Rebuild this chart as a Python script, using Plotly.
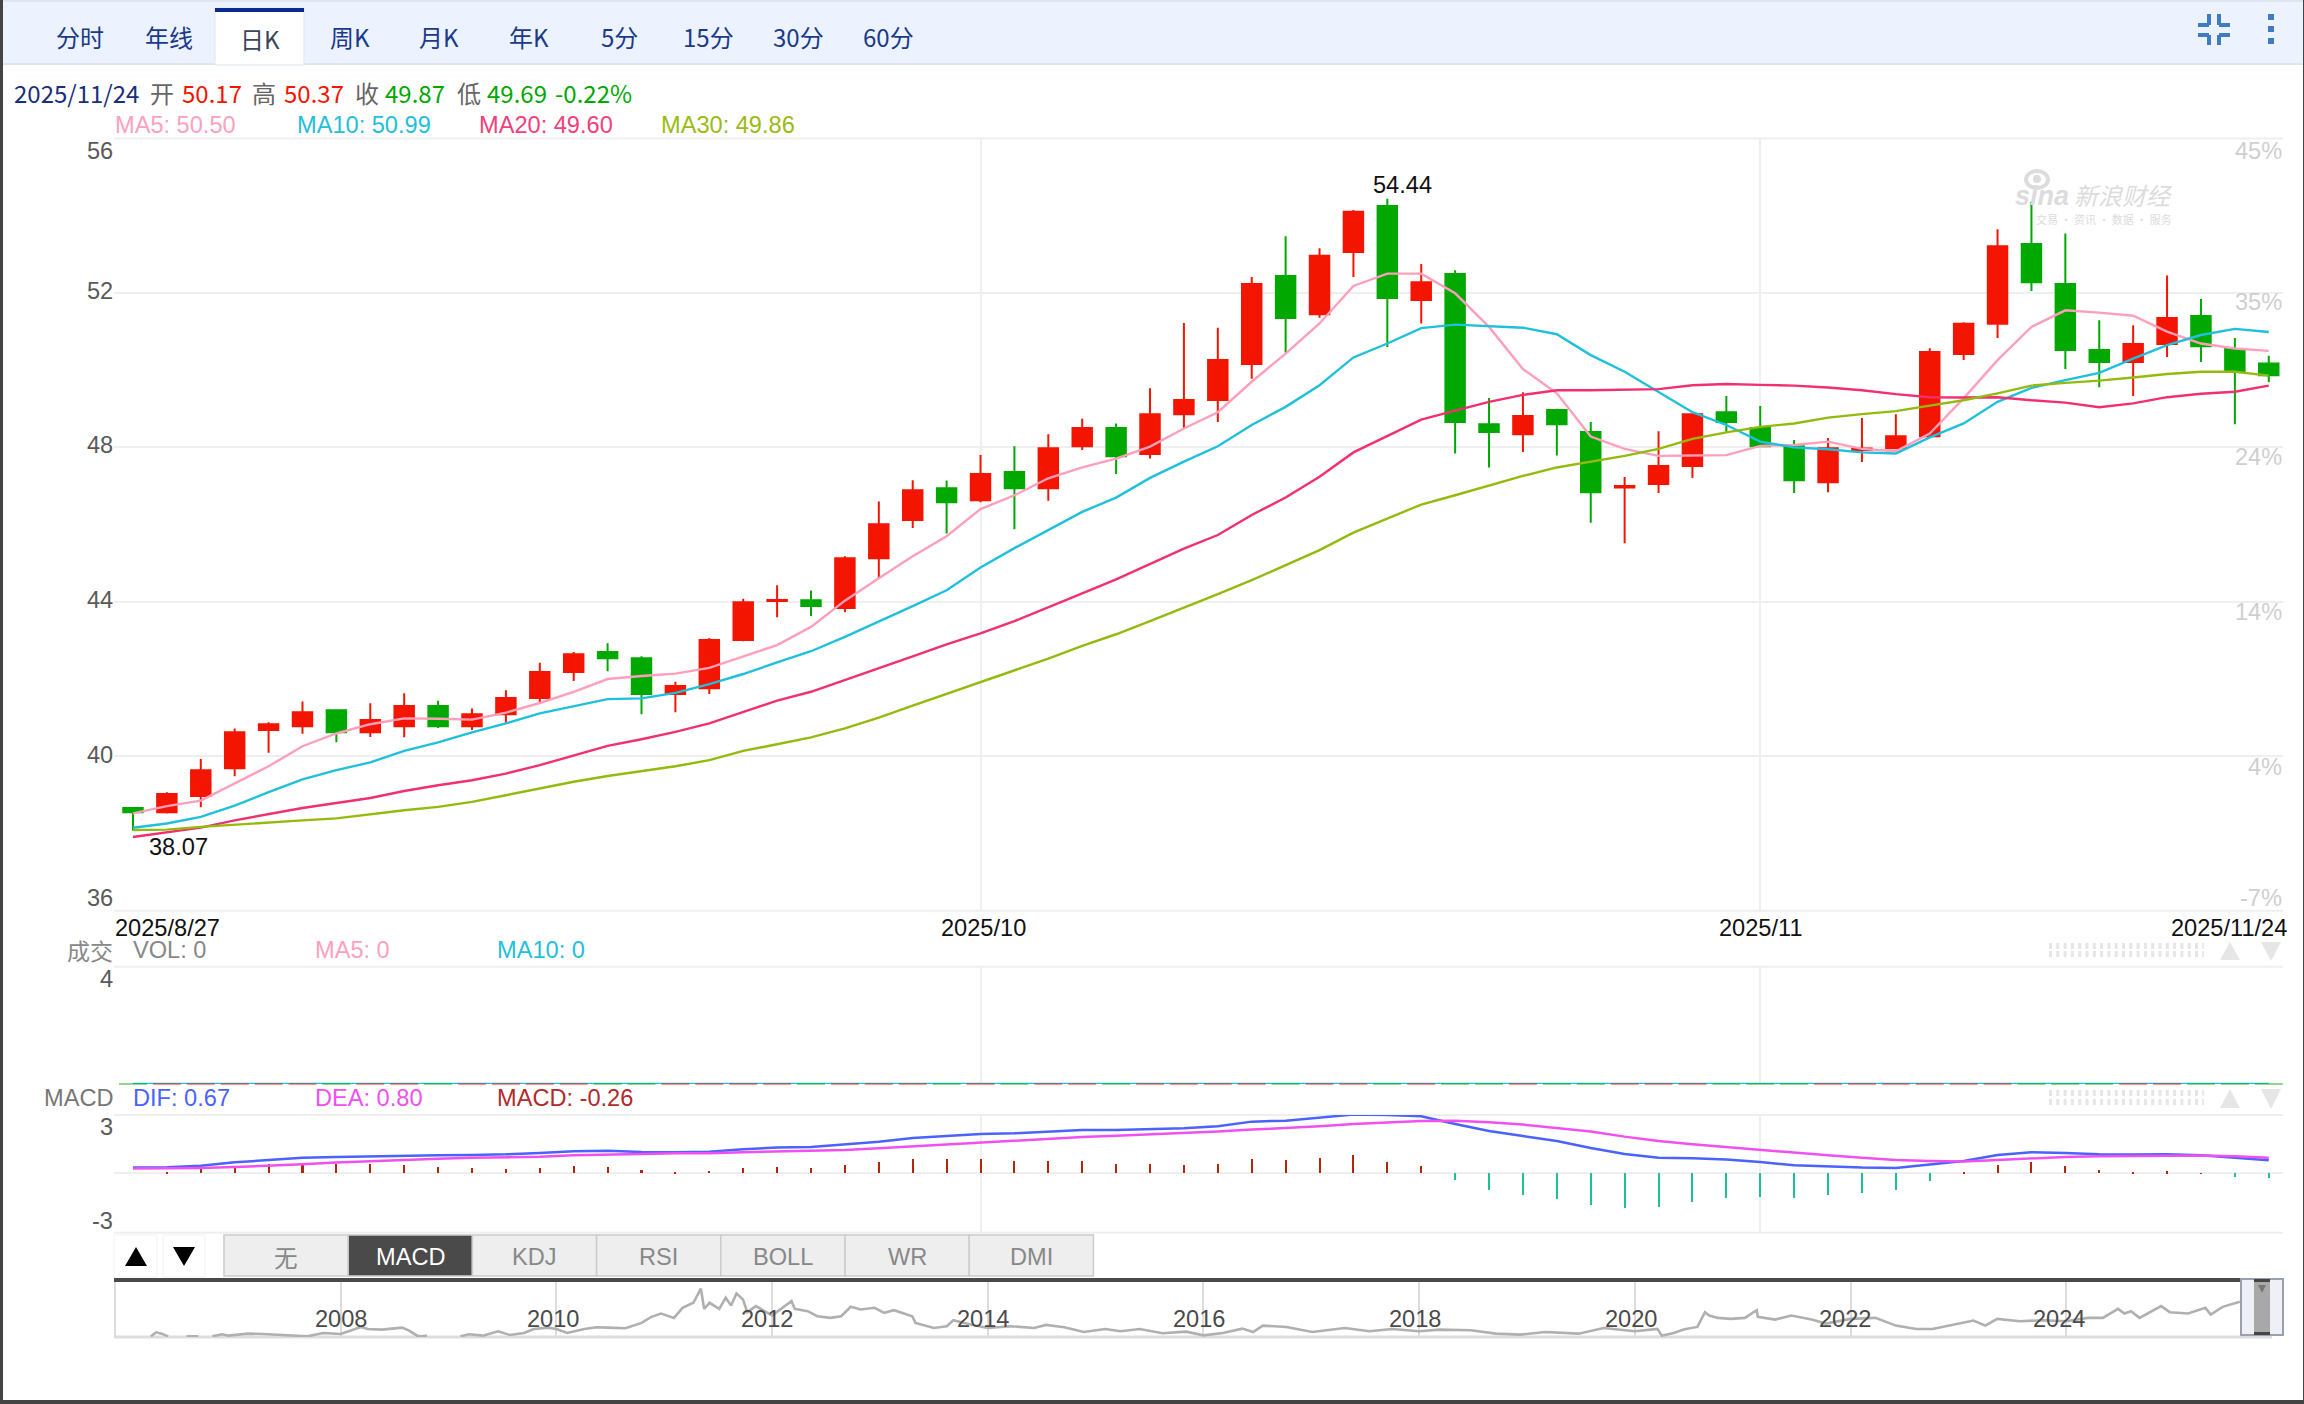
import plotly.graph_objects as go

W, H = 2304, 1404

# daily candles, 2025/8/27 - 2025/11/24
dates = [
    "8/27", "8/28", "8/29",
    "9/1", "9/2", "9/3", "9/4", "9/5", "9/8", "9/9", "9/10", "9/11", "9/12",
    "9/15", "9/16", "9/17", "9/18", "9/19", "9/22", "9/23", "9/24", "9/25", "9/26", "9/29", "9/30",
    "10/1", "10/2", "10/3", "10/6", "10/7", "10/8", "10/9", "10/10", "10/13", "10/14", "10/15", "10/16",
    "10/17", "10/20", "10/21", "10/22", "10/23", "10/24", "10/27", "10/28", "10/29", "10/30", "10/31",
    "11/3", "11/4", "11/5", "11/6", "11/7", "11/10", "11/11", "11/12", "11/13", "11/14",
    "11/17", "11/18", "11/19", "11/20", "11/21", "11/24",
]
opens = [
    38.66, 38.55, 38.97, 39.69, 40.68, 40.78, 41.19, 40.62, 40.78, 41.30, 40.78, 41.09, 41.51, 42.18, 42.70, 42.54,
    41.61, 41.76, 43.01, 44.02, 44.04, 43.84, 45.13, 46.12, 46.94, 46.63, 47.36, 46.94, 48.03, 48.50, 47.83, 48.86,
    49.23, 50.16, 52.44, 51.45, 53.06, 54.25, 51.82, 52.49, 48.60, 48.34, 48.97, 48.40, 46.96, 47.05, 47.52, 48.91,
    48.50, 48.03, 47.10, 47.93, 47.98, 48.29, 50.42, 51.20, 53.27, 52.23, 50.52, 50.21, 50.68, 51.40, 50.55, 50.17,
]
highs = [
    38.66, 39.07, 39.93, 40.72, 40.88, 41.42, 41.19, 41.37, 41.63, 41.44, 41.24, 41.71, 42.42, 42.70, 42.93, 42.59,
    41.93, 43.06, 44.08, 44.43, 44.29, 45.18, 46.60, 47.15, 47.14, 47.80, 48.03, 48.34, 48.74, 48.62, 49.53, 51.22,
    51.10, 52.41, 53.47, 53.16, 54.15, 54.44, 52.75, 52.59, 49.28, 49.43, 49.00, 48.66, 47.23, 48.42, 48.88, 49.33,
    49.07, 48.19, 48.24, 48.76, 48.86, 50.57, 51.24, 53.65, 54.36, 53.54, 51.29, 51.16, 52.45, 51.84, 50.83, 50.37,
]
lows = [
    38.07, 38.52, 38.68, 39.48, 40.09, 40.58, 40.36, 40.50, 40.49, 40.73, 40.68, 40.87, 41.39, 41.95, 42.20, 41.09,
    41.14, 41.61, 42.98, 43.60, 43.63, 43.73, 44.61, 45.91, 45.77, 46.58, 45.88, 46.62, 47.93, 47.31, 47.71, 48.49,
    48.66, 49.78, 50.45, 51.36, 52.41, 50.60, 51.21, 47.84, 47.48, 47.88, 47.79, 46.05, 45.52, 46.82, 47.21, 48.40,
    48.03, 46.82, 46.84, 47.62, 47.95, 48.29, 50.26, 50.83, 52.05, 50.03, 49.56, 49.33, 50.34, 50.21, 48.60, 49.69,
]
closes = [
    38.55, 39.02, 39.64, 40.62, 40.83, 41.14, 40.62, 40.94, 41.30, 40.78, 41.09, 41.51, 42.18, 42.64, 42.54, 41.61,
    41.82, 43.01, 43.99, 44.05, 43.89, 45.13, 46.01, 46.89, 46.58, 47.31, 46.94, 47.98, 48.50, 47.77, 48.86, 49.23,
    50.26, 52.23, 51.35, 52.96, 54.10, 51.87, 52.28, 48.66, 48.40, 48.81, 48.60, 46.84, 47.00, 47.52, 48.86, 48.66,
    48.03, 47.15, 47.98, 47.97, 48.29, 50.47, 51.20, 53.21, 52.28, 50.52, 50.21, 50.68, 51.35, 50.62, 49.95, 49.87,
]
ma5 = [
    38.52, 38.71, 38.85, 39.29, 39.74, 40.26, 40.59, 40.83, 40.98, 40.97, 40.95, 41.13, 41.38, 41.67, 42.00, 42.08,
    42.14, 42.29, 42.59, 42.88, 43.35, 44.03, 44.61, 45.18, 45.70, 46.40, 46.76, 47.20, 47.48, 47.71, 48.02, 48.49,
    48.91, 49.70, 50.43, 51.21, 52.18, 52.50, 52.50, 51.99, 51.12, 50.03, 49.40, 48.28, 47.96, 47.78, 47.79, 47.80,
    48.04, 48.06, 48.15, 47.96, 47.90, 48.36, 49.27, 50.26, 51.12, 51.55, 51.49, 51.41, 51.00, 50.69, 50.56, 50.50,
]
ma10 = [
    38.15, 38.26, 38.43, 38.72, 39.07, 39.40, 39.64, 39.84, 40.14, 40.36, 40.62, 40.85, 41.11, 41.30, 41.48, 41.50,
    41.64, 41.87, 42.13, 42.43, 42.72, 43.09, 43.48, 43.89, 44.30, 44.89, 45.39, 45.87, 46.33, 46.70, 47.21, 47.63,
    48.03, 48.58, 49.05, 49.61, 50.33, 50.69, 51.09, 51.18, 51.14, 51.10, 50.93, 50.39, 49.96, 49.44, 48.91, 48.58,
    48.15, 48.00, 47.95, 47.87, 47.84, 48.26, 48.62, 49.18, 49.54, 49.74, 49.93, 50.30, 50.65, 50.91, 51.07, 50.99,
]
ma20 = [
    37.91, 38.03, 38.15, 38.34, 38.50, 38.66, 38.79, 38.92, 39.10, 39.25, 39.38, 39.55, 39.77, 40.01, 40.27, 40.44,
    40.63, 40.85, 41.15, 41.44, 41.67, 41.97, 42.27, 42.59, 42.90, 43.18, 43.50, 43.87, 44.22, 44.58, 44.99, 45.38,
    45.73, 46.25, 46.70, 47.24, 47.87, 48.30, 48.72, 48.95, 49.18, 49.36, 49.48, 49.48, 49.50, 49.51, 49.61, 49.64,
    49.62, 49.60, 49.55, 49.48, 49.38, 49.30, 49.29, 49.30, 49.22, 49.16, 49.04, 49.14, 49.30, 49.39, 49.44, 49.60,
]
ma30 = [
    38.09, 38.10, 38.17, 38.23, 38.28, 38.34, 38.39, 38.50, 38.60, 38.69, 38.82, 38.99, 39.16, 39.34, 39.49, 39.62,
    39.74, 39.90, 40.14, 40.31, 40.49, 40.72, 41.00, 41.31, 41.61, 41.92, 42.23, 42.53, 42.86, 43.16, 43.50, 43.84,
    44.20, 44.56, 44.95, 45.34, 45.79, 46.16, 46.52, 46.76, 47.00, 47.26, 47.48, 47.63, 47.78, 47.96, 48.22, 48.39,
    48.53, 48.62, 48.77, 48.86, 48.94, 49.08, 49.22, 49.40, 49.60, 49.67, 49.73, 49.81, 49.90, 49.96, 49.96, 49.86,
]
volume = [0] * 64
dif = [
    0.29, 0.31, 0.39, 0.56, 0.68, 0.80, 0.84, 0.87, 0.92, 0.92, 0.94, 0.97, 1.04, 1.13, 1.16, 1.09,
    1.08, 1.11, 1.23, 1.32, 1.35, 1.47, 1.62, 1.81, 1.91, 2.02, 2.05, 2.14, 2.22, 2.22, 2.26, 2.31,
    2.41, 2.65, 2.70, 2.84, 3.01, 2.99, 2.92, 2.53, 2.17, 1.91, 1.66, 1.30, 0.99, 0.80, 0.77, 0.70,
    0.58, 0.41, 0.34, 0.29, 0.27, 0.44, 0.63, 0.94, 1.08, 1.04, 0.97, 0.96, 0.97, 0.92, 0.80, 0.67,
]
dea = [
    0.24, 0.24, 0.27, 0.32, 0.38, 0.46, 0.55, 0.62, 0.68, 0.75, 0.79, 0.82, 0.85, 0.92, 0.97, 0.99,
    1.03, 1.03, 1.08, 1.11, 1.15, 1.20, 1.28, 1.38, 1.49, 1.59, 1.68, 1.76, 1.86, 1.93, 2.00, 2.05,
    2.14, 2.24, 2.32, 2.41, 2.53, 2.62, 2.68, 2.70, 2.62, 2.50, 2.32, 2.14, 1.88, 1.66, 1.49, 1.35,
    1.20, 1.04, 0.92, 0.80, 0.68, 0.63, 0.60, 0.68, 0.77, 0.84, 0.87, 0.89, 0.91, 0.91, 0.87, 0.80,
]
macd = [
    0.00, 0.07, 0.20, 0.36, 0.48, 0.55, 0.50, 0.46, 0.44, 0.32, 0.27, 0.24, 0.29, 0.36, 0.32, 0.17,
    0.07, 0.12, 0.27, 0.34, 0.29, 0.43, 0.56, 0.74, 0.74, 0.75, 0.63, 0.65, 0.65, 0.48, 0.48, 0.44,
    0.50, 0.75, 0.68, 0.80, 0.92, 0.60, 0.38, -0.34, -0.85, -1.13, -1.32, -1.64, -1.78, -1.74, -1.49, -1.28,
    -1.21, -1.26, -1.13, -1.01, -0.85, -0.41, 0.02, 0.44, 0.58, 0.39, 0.19, 0.07, 0.10, 0.01, -0.17, -0.26,
]

# overview strip at the bottom, None where the line drops out
nav_years = [
    2006.24, 2006.29, 2006.34, 2006.40, 2006.50, 2006.57, 2006.68, 2006.75, 2006.81, 2006.90, 2006.96, 2007.14,
    2007.28, 2007.47, 2007.62, 2007.69, 2007.84, 2008.00, 2008.19, 2008.25, 2008.38, 2008.57, 2008.63, 2008.71,
    2008.75, 2008.80, 2009.00, 2009.11, 2009.19, 2009.32, 2009.46, 2009.57, 2009.70, 2009.79, 2009.92, 2010.00,
    2010.10, 2010.26, 2010.37, 2010.48, 2010.64, 2010.79, 2010.88, 2010.97, 2011.09, 2011.17, 2011.27, 2011.34,
    2011.37, 2011.42, 2011.51, 2011.57, 2011.62, 2011.67, 2011.73, 2011.77, 2011.85, 2012.00, 2012.08, 2012.18,
    2012.21, 2012.33, 2012.42, 2012.54, 2012.64, 2012.73, 2012.82, 2012.95, 2013.04, 2013.13, 2013.30, 2013.33,
    2013.50, 2013.62, 2013.68, 2013.84, 2014.00, 2014.21, 2014.43, 2014.54, 2014.71, 2014.89, 2015.09, 2015.23,
    2015.41, 2015.62, 2015.84, 2016.00, 2016.18, 2016.36, 2016.46, 2016.55, 2016.77, 2016.91, 2017.01, 2017.31,
    2017.54, 2017.75, 2018.00, 2018.19, 2018.48, 2018.71, 2018.94, 2019.17, 2019.48, 2019.71, 2019.88, 2020.00,
    2020.21, 2020.25, 2020.36, 2020.46, 2020.58, 2020.65, 2020.69, 2020.77, 2020.89, 2021.02, 2021.13, 2021.14,
    2021.30, 2021.45, 2021.64, 2021.77, 2022.00, 2022.23, 2022.42, 2022.61, 2022.76, 2022.95, 2023.14, 2023.25,
    2023.36, 2023.57, 2023.79, 2024.00, 2024.20, 2024.34, 2024.48, 2024.54, 2024.60, 2024.68, 2024.88, 2024.96,
    2025.13, 2025.29, 2025.34, 2025.45, 2025.61,
]
nav_vals = [
    2, 14, 10, 2, None, 2, 2, None, 2, 8, 4, 10,
    9, 6, 4, 2, 12, 9, 30, 24, 22, 28, 20, 4,
    2, 4, None, 2, 8, 4, 17, 6, 12, 24, 28, 24,
    12, 24, 29, 28, 26, 42, 60, 70, 57, 87, 102, 144,
    84, 102, 84, 117, 94, 130, 112, 74, 92, 64, 82, 107,
    84, 77, 62, 57, 62, 90, 82, 87, 72, 80, 62, 42,
    27, 32, 50, 37, 27, 32, 27, 36, 29, 15, 24, 17,
    24, 11, 16, 5, 12, 25, 15, 34, 30, 22, 15, 27,
    17, 24, 17, 22, 20, 10, 7, 15, 10, 27, 22, 17,
    24, 4, 12, 23, 30, 74, 64, 57, 54, 57, 80, 60,
    52, 64, 52, 40, 54, 57, 34, 24, 24, 37, 49, 34,
    54, 47, 50, 47, 57, 57, 84, 70, 77, 57, 92, 74,
    70, 87, 67, 90, 105,
]
nav_ticks = [2008, 2010, 2012, 2014, 2016, 2018, 2020, 2022, 2024]

tabs = ["分时", "年线", "日K", "周K", "月K", "年K", "5分", "15分", "30分", "60分"]
tab_x = [80, 169, 260, 350, 439, 529, 619, 708, 798, 888]
indicators = ["无", "MACD", "KDJ", "RSI", "BOLL", "WR", "DMI"]
price_ticks = [36, 40, 44, 48, 52, 56]
pct_labels = ["-7%", "4%", "14%", "24%", "35%", "45%"]

RED = "#f31500"
GREEN = "#00a800"
GRID = "#efefef"
SANS = "Liberation Sans"
CJK = "Noto Sans CJK SC"
TEXT = 23.6


def px(v):
    return v / W


def py(v):
    return 1 - v / H


annotations = []
shapes = []


def label(text, x, y, size=TEXT, color="#666666", anchor="left", family=SANS):
    annotations.append(dict(
        text=text, x=px(x), y=py(y), xref="paper", yref="paper", showarrow=False,
        xanchor=anchor, yanchor="middle", align=anchor, borderpad=0,
        font=dict(size=size, color=color, family=family),
    ))


def rect(x0, y0, x1, y1, fill, line=None, width=0, layer="below"):
    shapes.append(dict(
        type="rect", xref="paper", yref="paper", x0=px(x0), x1=px(x1), y0=py(y0), y1=py(y1),
        fillcolor=fill, line=dict(color=line, width=width) if line else dict(width=0), layer=layer,
    ))


def seg(x0, y0, x1, y1, color, width=2, dash="solid", layer="above"):
    shapes.append(dict(
        type="line", xref="paper", yref="paper", x0=px(x0), x1=px(x1), y0=py(y0), y1=py(y1),
        line=dict(color=color, width=width, dash=dash), layer=layer,
    ))


def tri(points, color):
    path = "M " + " L ".join(f"{px(a):.5f},{py(b):.5f}" for a, b in points) + " Z"
    shapes.append(dict(type="path", xref="paper", yref="paper", path=path, fillcolor=color,
                       line=dict(width=0), layer="above"))


fig = go.Figure()

# price panel
fig.add_trace(go.Candlestick(
    x=dates, open=opens, high=highs, low=lows, close=closes, xaxis="x", yaxis="y",
    increasing=dict(line=dict(color=RED, width=2), fillcolor=RED),
    decreasing=dict(line=dict(color=GREEN, width=2), fillcolor=GREEN),
    whiskerwidth=0, showlegend=False,
))
for values, color in [(ma5, "#ff9fbc"), (ma10, "#1fc0dc"), (ma20, "#f2306f"), (ma30, "#94ba0e")]:
    fig.add_trace(go.Scatter(x=dates, y=values, mode="lines", line=dict(color=color, width=2.4),
                             xaxis="x", yaxis="y", showlegend=False))

# volume panel, every bar is flat so only its colour shows
vol_colors = [RED if c >= o else GREEN for o, c in zip(opens, closes)]
fig.add_trace(go.Scatter(x=dates, y=volume, mode="lines", line=dict(color="#1fc0dc", width=2.5),
                         xaxis="x2", yaxis="y2", cliponaxis=False, showlegend=False))
fig.add_trace(go.Scatter(x=dates, y=volume, mode="markers", xaxis="x2", yaxis="y2", cliponaxis=False,
                         marker=dict(symbol="line-ew", size=20, opacity=0.75, line=dict(color=vol_colors, width=1.2)),
                         showlegend=False))

# MACD panel
fig.add_trace(go.Bar(x=dates, y=macd, width=0.06, xaxis="x3", yaxis="y3", showlegend=False,
                     marker=dict(color=["#b5250a" if v >= 0 else "#1dbf94" for v in macd], line=dict(width=0))))
fig.add_trace(go.Scatter(x=dates, y=dif, mode="lines", line=dict(color="#4a62ff", width=2.5),
                         xaxis="x3", yaxis="y3", cliponaxis=False, showlegend=False))
fig.add_trace(go.Scatter(x=dates, y=dea, mode="lines", line=dict(color="#f050f0", width=2.5),
                         xaxis="x3", yaxis="y3", cliponaxis=False, showlegend=False))

# overview strip
fig.add_trace(go.Scatter(x=nav_years, y=nav_vals, mode="lines", line=dict(color="#b0b0b0", width=2.6),
                         xaxis="x4", yaxis="y4", showlegend=False))

# top bar
rect(0, 0, W, 63, "#ecf3fe")
rect(0, 0, W, 2, "#dfe6f3")
rect(0, 63, W, 65, "#dfe6f3")
rect(215, 8, 304, 65, "#ffffff", "#dfe6f3", 1)
rect(215, 8, 304, 12, "#0a2a8c")
for name, x in zip(tabs, tab_x):
    is_day = name == "日K"
    label(name, x, 38 if is_day else 36, 24, "#39465c" if is_day else "#1b3a8a", "center", CJK)

# compress + menu icons
for xa, xb, ya, yb in [(2209, 2198, 14, 25), (2219, 2230, 14, 25), (2209, 2198, 45, 35), (2219, 2230, 45, 35)]:
    seg(xa, ya, xa, yb, "#3f7cc8", 4)
    seg(xa, yb, xb, yb, "#3f7cc8", 4)
for y in [17, 29, 41]:
    rect(2268, y - 3, 2274, y + 3, "#3f7cc8")

# quote line
for text, x, color in [
    ("2025/11/24", 13, "#1b2f7a"), ("开", 149, "#666666"), ("50.17", 181, RED), ("高", 251, "#666666"),
    ("50.37", 283, RED), ("收", 354, "#666666"), ("49.87", 384, GREEN), ("低", 456, "#666666"),
    ("49.69", 486, GREEN), ("-0.22%", 554, GREEN),
]:
    label(text, x, 92, 24, color, "left", CJK)
for text, x, color in [("MA5: 50.50", 114, "#ffa0c0"), ("MA10: 50.99", 296, "#1fc0dc"),
                       ("MA20: 49.60", 478, "#f2407a"), ("MA30: 49.86", 660, "#9abb14")]:
    label(text, x, 125, TEXT, color)

# price axis labels, the two end ones sit inside the plot
for v, y in zip(price_ticks, [898, 755, 600, 445, 291, 151]):
    label(str(v), 114, y, TEXT, "#5a5a5a", "right")
for text, y in zip(pct_labels, [898, 767, 612, 457, 302, 151]):
    label(text, 2283, y, TEXT, "#cfcfcf", "right")
label("54.44", 1402, 185, TEXT, "#111111", "center")
label("38.07", 178, 847, TEXT, "#111111", "center")
label("2025/8/27", 114, 928, TEXT, "#111111")
label("2025/10", 983, 928, TEXT, "#111111", "center")
label("2025/11", 1761, 928, TEXT, "#111111", "center")
label("2025/11/24", 2288, 928, TEXT, "#111111", "right")

# sina watermark
shapes.append(dict(type="circle", xref="paper", yref="paper", x0=px(2026), x1=px(2048), y0=py(188), y1=py(171),
                   line=dict(color="#dcdcdc", width=4), layer="below"))
shapes.append(dict(type="circle", xref="paper", yref="paper", x0=px(2033), x1=px(2041), y0=py(183), y1=py(175),
                   fillcolor="#dcdcdc", line=dict(width=0), layer="below"))
label("<b><i>sina</i></b>", 2014, 196, 27, "#dcdcdc")
label("<i>新浪财经</i>", 2073, 194, 24, "#dcdcdc", "left", CJK)
label("交易 · 资讯 · 数据 · 服务", 2035, 219, 11, "#dcdcdc", "left", CJK)

# volume + MACD legends
label("成交", 114, 950, 23, "#888888", "right", CJK)
label("VOL: 0", 132, 950, TEXT, "#888888")
label("MA5: 0", 314, 950, TEXT, "#ffa0c0")
label("MA10: 0", 496, 950, TEXT, "#1fc0dc")
label("4", 114, 979, TEXT, "#5a5a5a", "right")
label("MACD", 114, 1098, TEXT, "#777777", "right")
label("DIF: 0.67", 132, 1098, TEXT, "#4a62ff")
label("DEA: 0.80", 314, 1098, TEXT, "#f050f0")
label("MACD: -0.26", 496, 1098, TEXT, "#b22a2a")
label("3", 114, 1127, TEXT, "#5a5a5a", "right")
label("-3", 114, 1221, TEXT, "#5a5a5a", "right")

# panel edges, plotly drops grid lines that land right on the range ends
for y in [138.5, 910.7, 966.7, 1115, 1232.7]:
    seg(114, y, 2283, y, GRID, 2, layer="below")

# drag handles right of the legends
for y_a, y_b, top, bot in [(946, 954, 942, 960), (1093, 1102, 1089, 1108)]:
    for y in (y_a, y_b):
        seg(2049, y, 2204, y, "#e6e6e6", 6, "3px,4.3px")
    tri([(2230, top), (2220, bot), (2240, bot)], "#e6e6e6")
    tri([(2271, bot + 1), (2261, top), (2281, top)], "#e6e6e6")

# indicator buttons
rect(114, 1235, 157, 1277, "#ffffff", "#f2f2f2", 1)
rect(163, 1235, 205, 1277, "#ffffff", "#f2f2f2", 1)
tri([(136, 1247), (125, 1266), (147, 1266)], "#000000")
tri([(184, 1266), (173, 1247), (195, 1247)], "#000000")
for i, name in enumerate(indicators):
    x0 = 224 + i * 124.2
    active = name == "MACD"
    rect(x0, 1235, x0 + 124.2, 1276, "#4a4a4a" if active else "#eeeeee", "#cccccc", 1.5)
    label(name, x0 + 62, 1257, TEXT, "#ffffff" if active else "#888888", "center", CJK if name == "无" else SANS)

# overview furniture
rect(114, 1278, 2241, 1282, "#4a4a4a", layer="above")
seg(115, 1282, 115, 1337, "#dddddd", 2, layer="below")
seg(114, 1337, 2272, 1337, "#dddddd", 3, layer="below")
for year, x in zip(nav_ticks, [341, 553, 767, 983, 1199, 1415, 1631, 1845, 2059]):
    label(str(year), x, 1319, TEXT, "#4a4a4a", "center")
rect(2241, 1279, 2283, 1335, "#eef0f5", "#9aa0b0", 2, layer="above")
rect(2254, 1279, 2270, 1335, "#a8a8a8", layer="above")
rect(2254, 1279, 2270, 1282, "#444444", layer="above")
rect(2254, 1332, 2270, 1335, "#444444", layer="above")
tri([(2262, 1293), (2258, 1285), (2266, 1285)], "#777777")

# window frame
rect(0, 0, 3, H, "#444444", layer="above")
rect(W - 1, 0, W, H, "#444444", layer="above")
rect(0, 1400, W, H, "#444444", layer="above")

x_left, x_right = px(114), px(2283)
cat_range = [-0.56, 63.42]
grid_days = ["10/1", "11/3"]


def day_axis(anchor):
    return dict(domain=[x_left, x_right], type="category", categoryorder="array", categoryarray=dates,
                range=cat_range, anchor=anchor, tickmode="array", tickvals=grid_days, showticklabels=False,
                showgrid=True, gridcolor=GRID, gridwidth=2, ticks="", showline=False, zeroline=False,
                rangeslider=dict(visible=False))


fig.update_layout(
    width=W, height=H, autosize=False, margin=dict(l=0, r=0, t=0, b=0),
    paper_bgcolor="#ffffff", plot_bgcolor="#ffffff", showlegend=False, boxgap=0.18, bargap=0, hovermode=False,
    xaxis=day_axis("y"),
    yaxis=dict(domain=[py(910.7), py(138.5)], range=[36, 56], tickmode="array", tickvals=price_ticks,
               showticklabels=False, showgrid=True, gridcolor=GRID, gridwidth=2, zeroline=False, anchor="x"),
    xaxis2=day_axis("y2"),
    yaxis2=dict(domain=[py(1084), py(966.7)], range=[0, 4], tickmode="array", tickvals=[4],
                showticklabels=False, showgrid=False, zeroline=False, anchor="x2"),
    xaxis3=day_axis("y3"),
    yaxis3=dict(domain=[py(1232.7), py(1115)], range=[-3.05, 2.99], tickmode="array", tickvals=[0],
                showticklabels=False, showgrid=True, gridcolor=GRID, gridwidth=2, zeroline=False, anchor="x3"),
    xaxis4=dict(domain=[x_left, x_right], range=[2005.898, 2026.01], tickmode="array", tickvals=nav_ticks,
                showticklabels=False, showgrid=True, gridcolor="#dddddd", gridwidth=2, zeroline=False, anchor="y4"),
    yaxis4=dict(domain=[py(1337), py(1282)], range=[0, 164], showticklabels=False, showgrid=False,
                zeroline=False, anchor="x4"),
    annotations=annotations,
    shapes=shapes,
)

fig.write_html("out.html", config={"displayModeBar": False}, post_script="document.body.style.margin='0';")
